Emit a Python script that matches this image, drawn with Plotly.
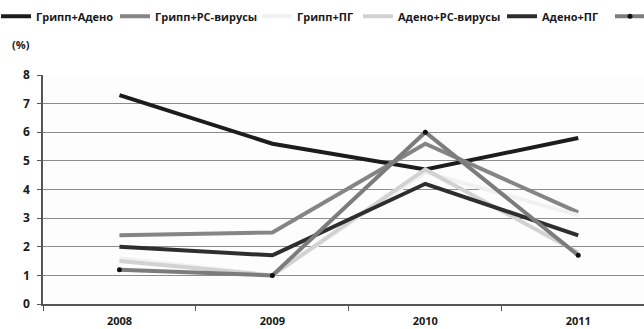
import plotly.graph_objects as go

years = ["2008", "2009", "2010", "2011"]

gripp_adeno = [7.3, 5.6, 4.7, 5.8]
gripp_rs = [2.4, 2.5, 5.6, 3.2]
gripp_pg = [1.6, 1.0, 4.6, 3.1]
adeno_rs = [1.5, 1.0, 4.7, 1.8]
adeno_pg = [2.0, 1.7, 4.2, 2.4]
rs_pg = [1.2, 1.0, 6.0, 1.7]

series = [
    ("Грипп+Адено", gripp_adeno, "#1c1c1c", False),
    ("Грипп+РС-вирусы", gripp_rs, "#858585", False),
    ("Грипп+ПГ", gripp_pg, "#f1f1f1", False),
    ("Адено+РС-вирусы", adeno_rs, "#d2d2d2", False),
    ("Адено+ПГ", adeno_pg, "#2e2e2e", False),
    ("РС-вирусы+ПГ", rs_pg, "#7c7c7c", True),
]

# left edge (in pixels) of each legend entry along the top row
legend_left_px = [-4, 115, 257, 358, 502, 610]

PLOT_L, PLOT_W = 43, 601
font_family = "Open Sans, Liberation Sans, sans-serif"
text_font = dict(family=font_family, size=11, color="#1a1a1a", weight="bold")

fig = go.Figure()
legend_layouts = {}
for i, (name, vals, color, with_markers) in enumerate(series):
    key = "legend" if i == 0 else f"legend{i + 1}"
    fig.add_trace(go.Scatter(
        x=years, y=vals, name=name,
        mode="lines+markers" if with_markers else "lines",
        line=dict(color=color, width=4),
        marker=dict(color="#111111", size=5) if with_markers else None,
        legend=key,
    ))
    legend_layouts[key] = dict(
        orientation="h",
        x=(legend_left_px[i] - PLOT_L) / PLOT_W, xanchor="left",
        y=1.32, yanchor="top",
        font=text_font,
        itemwidth=30,
        bgcolor="rgba(0,0,0,0)",
    )

fig.update_layout(
    width=644, height=329,
    margin=dict(l=43, r=0, t=75, b=25, autoexpand=False),
    paper_bgcolor="white",
    plot_bgcolor="#fdfdfd",
    font=dict(family=font_family, size=11, color="#1a1a1a"),
    showlegend=True,
    xaxis=dict(
        type="category",
        range=[-0.5, 3.43],
        tickson="boundaries",
        ticks="outside", ticklen=5, tickcolor="#555555",
        ticklabelstandoff=6,
        showgrid=False,
        showline=True, linecolor="#555555", linewidth=1.5,
        tickfont=text_font,
    ),
    yaxis=dict(
        range=[0, 8], dtick=1,
        ticks="outside", ticklen=4, tickcolor="#555555",
        ticklabelstandoff=5,
        showgrid=True, gridcolor="#8c8c8c", gridwidth=1,
        showline=True, linecolor="#555555", linewidth=1.5,
        zeroline=False,
        tickfont=dict(family=font_family, size=12, color="#1a1a1a", weight="bold"),
    ),
    annotations=[
        dict(
            text="(%)", xref="paper", yref="paper",
            x=(10 - PLOT_L) / PLOT_W, y=1.135, xanchor="left", yanchor="middle",
            showarrow=False,
            font=text_font,
        )
    ],
    **legend_layouts,
)

fig.write_html("out.html")
